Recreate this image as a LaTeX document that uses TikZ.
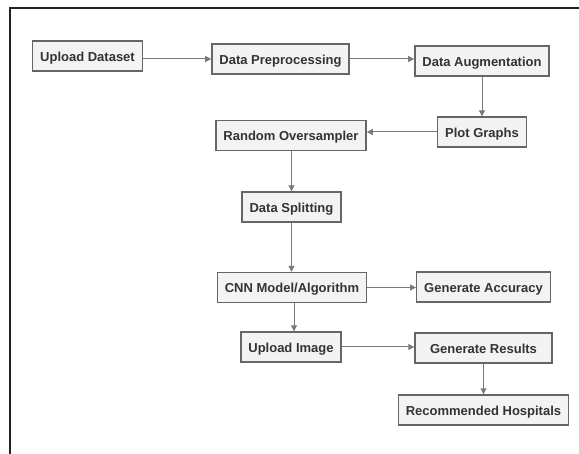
\documentclass[tikz,border=0pt]{standalone}
\usepackage{fontspec}
\setmainfont{Liberation Sans}
\usepackage{xcolor}
\usetikzlibrary{arrows.meta,positioning,calc}
\definecolor{boxfill}{HTML}{F3F3F3}
\definecolor{boxline}{HTML}{666666}
\definecolor{flowline}{HTML}{7A7A7A}
\definecolor{labeltext}{HTML}{333333}
\definecolor{frameline}{HTML}{222222}

\begin{document}
\begin{tikzpicture}[x=1pt, y=-1pt,
    stage/.style={draw=boxline, line width=1.4pt, fill=boxfill, minimum height=30pt,
        text height=12pt, text depth=1pt, inner xsep=7.5pt, text=labeltext,
        font=\fontsize{13}{15}\selectfont\bfseries},
    flow/.style={draw=flowline, line width=1pt, -{Triangle[length=6pt,width=6pt]}}]
    \useasboundingbox (0,0) rectangle (579,454);

    % Frame
    \draw [frameline, line width=2.2pt] (10,454) -- (10,8) -- (579,8);

    % Top row
    \node [stage] (upload) at (87.5, 56) {Upload Dataset};
    \node [stage] (preproc) at (280.5, 59) {Data Preprocessing};
    \node [stage] (augment) at (482, 61) {Data Augmentation};
    \node [stage] (plot) at (482, 132) {Plot Graphs};

    % Middle column
    \node [stage] (oversampler) at (291, 135.5) {Random Oversampler};
    \node [stage] (splitting) at (291.5, 207) {Data Splitting};
    \node [stage] (cnn) at (292, 287.5) {CNN Model/Algorithm};
    \node [stage] (image) at (291, 347) {Upload Image};

    % Right column
    \node [stage] (accuracy) at (483.5, 287) {Generate Accuracy};
    \node [stage, minimum width=137pt] (results) at (483.5, 348) {Generate Results};
    \node [stage] (hospitals) at (483.5, 410) {Recommended Hospitals};

    % Connectors
    \draw [flow] (upload.east |- preproc) -- (preproc);
    \draw [flow] (preproc) -- (preproc.east -| augment.west);
    \draw [flow] (augment) -- (plot);
    \draw [flow] (plot) -- (plot.west -| oversampler.east);
    \draw [flow] (oversampler.south -| splitting) -- (splitting);
    \draw [flow] (splitting) -- (splitting.south |- cnn.north);
    \draw [flow] (cnn.south -| 294,0) -- (image.north -| 294,0);
    \draw [flow] (cnn) -- (cnn.east -| accuracy.west);
    \draw [flow] (image) -- (image.east -| results.west);
    \draw [flow] (results) -- (hospitals);
\end{tikzpicture}
\end{document}
